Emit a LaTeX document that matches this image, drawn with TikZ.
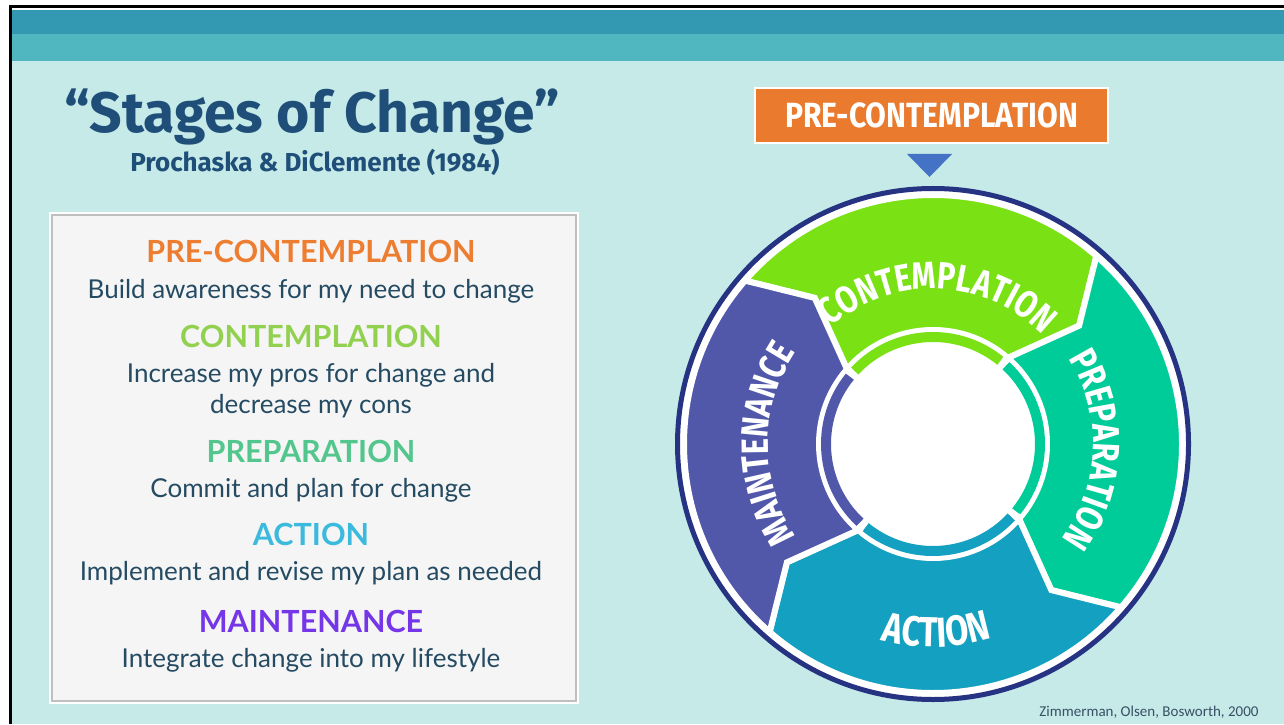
\documentclass[tikz,border=0pt]{standalone}
\usepackage{fontspec}
\usepackage{xcolor}
\usepackage{tikz}
\usetikzlibrary{decorations.text}

\setmainfont{Lato}
\newfontfamily\titlefont{Fira Sans}
\newfontfamily\ringfont[FakeStretch=0.8]{Fira Sans}
\newfontfamily\tagfont[FakeStretch=0.86]{Fira Sans}
\newfontfamily\notefont{Carlito}

\definecolor{bgpale}{RGB}{197,234,232}
\definecolor{banddark}{RGB}{51,153,179}
\definecolor{bandlight}{RGB}{80,183,193}
\definecolor{titleblue}{RGB}{31,78,121}
\definecolor{bodyslate}{RGB}{37,75,99}
\definecolor{preorange}{RGB}{237,125,49}
\definecolor{contgreen}{RGB}{146,208,80}
\definecolor{prepgreen}{RGB}{82,198,140}
\definecolor{actblue}{RGB}{60,186,222}
\definecolor{maintpurple}{RGB}{116,54,230}
\definecolor{tagorange}{RGB}{233,122,46}
\definecolor{pointerblue}{RGB}{68,114,196}
\definecolor{ringnavy}{RGB}{38,50,130}
\definecolor{segcont}{RGB}{122,226,20}
\definecolor{segprep}{RGB}{0,204,153}
\definecolor{segact}{RGB}{20,160,192}
\definecolor{segmaint}{RGB}{81,88,170}
\definecolor{notegray}{RGB}{55,80,100}

\tikzset{
  stagehead/.style={anchor=base, font=\bfseries\fontsize{30.5}{34}\selectfont},
  stagetext/.style={anchor=base, text=bodyslate, font=\fontsize{26}{30}\selectfont},
  segment/.style={draw=white, line width=6pt},
  ringlabel/.style={decorate, decoration={text along path, text align=center, text color=white}},
}

\begin{document}
\begin{tikzpicture}[x=1pt, y=1pt]

\useasboundingbox (0,0) rectangle (1284,724);

% Sfondo e bande in alto
\fill[white] (0,0) rectangle (1284,724);
\fill[bgpale] (11,0) rectangle (1284,714);
\fill[banddark] (11,690) rectangle (1284,714);
\fill[bandlight] (11,663) rectangle (1284,690);
\draw[line width=3pt] (10.5,0) -- (10.5,717) -- (1284,717);

% Titolo
\node[anchor=base, text=titleblue, font=\titlefont\bfseries\fontsize{57}{60}\selectfont] (title) at (312,591) {“Stages of Change”};
\node[anchor=base, text=titleblue, font=\titlefont\bfseries\fontsize{26}{30}\selectfont] (authors) at (315,552) {Prochaska \& DiClemente (1984)};

% Riquadro con le descrizioni
\fill[white] (49,20) rectangle (579,512);
\filldraw[fill=white!96!black, draw=black!25, line width=1.5pt] (52,23) rectangle (576,509);

\node[stagehead, text=preorange] (hpre) at (311,461) {PRE-CONTEMPLATION};
\node[stagetext] (tpre) at (311,426) {Build awareness for my need to change};
\node[stagehead, text=contgreen] (hcont) at (311,377) {CONTEMPLATION};
\node[stagetext] (tconta) at (311,342) {Increase my pros for change and};
\node[stagetext] (tcontb) at (311,311) {decrease my cons};
\node[stagehead, text=prepgreen] (hprep) at (311,262) {PREPARATION};
\node[stagetext] (tprep) at (311,227) {Commit and plan for change};
\node[stagehead, text=actblue] (hact) at (311,179) {ACTION};
\node[stagetext] (tact) at (311,144) {Implement and revise my plan as needed};
\node[stagehead, text=maintpurple] (hmaint) at (311,92) {MAINTENANCE};
\node[stagetext] (tmaint) at (311,57) {Integrate change into my lifestyle};

% Etichetta arancione e freccia
\node[minimum width=353pt, minimum height=55pt, fill=tagorange, draw=white, line width=1.5pt, text=white, font=\tagfont\bfseries\fontsize{35}{35}\selectfont] (tag) at (931.5,608.5) {PRE-CONTEMPLATION};
\fill[pointerblue] (907,570) -- (952,570) -- (929.5,547) -- cycle;

% Ciclo delle fasi
\begin{scope}[shift={(933,280)}]
\filldraw[fill=white, draw=ringnavy, line width=5pt] (0,0) circle[radius=255.5];
\foreach \col/\a in {segcont/139, segprep/49, segact/-41, segmaint/-131} {
  \filldraw[segment, fill=\col] (\a:249) arc[start angle=\a, end angle=\a-90, radius=249]
    -- (\a-100:188) -- (\a-90:114) arc[start angle=\a-90, end angle=\a, radius=114]
    -- (\a-10:188) -- cycle;
  \draw[\col, line width=10pt] (\a-2:107) arc[start angle=\a-2, end angle=\a-88, radius=107];
}

% Scritte curve
\path[ringlabel, decoration={text={|\ringfont\bfseries\fontsize{38}{38}\selectfont|CONTEMPLATION}}]
  (148:155) arc[start angle=148, end angle=28, radius=155];
\path[ringlabel, decoration={text={|\ringfont\bfseries\fontsize{38}{38}\selectfont|PREPARATION}}]
  (58:160) arc[start angle=58, end angle=-62, radius=160];
\path[ringlabel, decoration={text={|\ringfont\bfseries\fontsize{42}{42}\selectfont|ACTION}}]
  (-150:203) arc[start angle=-150, end angle=-28, radius=203];
\path[ringlabel, decoration={text={|\ringfont\bfseries\fontsize{38}{38}\selectfont|MAINTENANCE}}]
  (240:165) arc[start angle=240, end angle=120, radius=165];
\end{scope}

% Fonte
\node[anchor=base east, text=notegray, font=\notefont\fontsize{15}{17}\selectfont] (cite) at (1262,8) {Zimmerman, Olsen, Bosworth, 2000};

\end{tikzpicture}
\end{document}
